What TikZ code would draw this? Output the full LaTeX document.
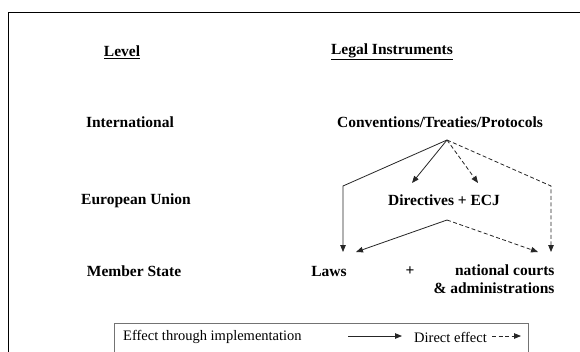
\documentclass[tikz,border=0pt]{standalone}
\usepackage{fontspec}
\setmainfont{Liberation Serif}
\usetikzlibrary{arrows.meta}
\tikzset{
    lvl/.style={font=\fontsize{15.5}{17.5}\selectfont\bfseries, inner sep=1pt},
    legtext/.style={font=\fontsize{14.5}{17}\selectfont, inner sep=1pt, anchor=west},
    impl/.style={line width=0.8pt, draw=black!85, -{Triangle[length=7pt,width=5.5pt]}},
    direct/.style={impl, dash pattern=on 4pt off 2.5pt},
}

\begin{document}
\begin{tikzpicture}[x=1pt,y=-1pt]
        \clip (0,0) rectangle (580,351);
        \fill[white] (0,0) rectangle (580,351);
        % outer frame, cut off at right and bottom
        \draw[line width=1pt] (8,360) |- (590,12);
        % headings
        \node[lvl] (lvlhead) at (122,52) {\underline{Level}};
        \node[lvl] (insthead) at (392,52) {\underline{Legal Instruments}};
        % levels
        \node[lvl] (intl) at (130,122) {International};
        \node[lvl] (eu) at (136,201) {European Union};
        \node[lvl] (ms) at (134,271) {Member State};
        % instruments
        \node[lvl] (conv) at (440,122) {Conventions/Treaties/Protocols};
        \node[lvl] (dir) at (444,200) {Directives + ECJ};
        \node[lvl] (laws) at (329,271) {Laws};
        \node[lvl] (plus) at (410,271) {+};
        \node[lvl, align=right] (courts) at (494,279) {national courts\\\& administrations};
        % branching points
        \coordinate (convout) at (447,140);
        \coordinate (dirout) at (447,220);
        \coordinate (lbend) at (343,186);
        \coordinate (rbend) at (551,186);
        \coordinate (dirl) at (412,183);
        \coordinate (dirr) at (478,183);
        \coordinate (lawsl) at (343,252);
        \coordinate (lawsr) at (356,252);
        \coordinate (courtsl) at (538,252);
        \coordinate (courtsr) at (551,252);
        % effect through implementation
        \draw[impl] (convout) -- (dirl);
        \draw[impl] (convout) -- (lbend) -- (lawsl);
        \draw[impl] (dirout) -- (lawsr);
        % direct effect
        \draw[direct] (convout) -- (dirr);
        \draw[direct] (convout) -- (rbend) -- (courtsr);
        \draw[direct] (dirout) -- (courtsl);
        % legend
        \draw[line width=1pt, black!55] (114,360) |- (528,323) -- (528,360);
        \node[legtext] (legimpl) at (122,337) {Effect through implementation};
        \node[legtext] (legdirect) at (413,337) {Direct effect};
        \coordinate (implfrom) at (348,336);
        \coordinate (implto) at (402,336);
        \coordinate (directfrom) at (492,336);
        \coordinate (directto) at (521,336);
        \draw[impl] (implfrom) -- (implto);
        \draw[direct] (directfrom) -- (directto);
\end{tikzpicture}
\end{document}
